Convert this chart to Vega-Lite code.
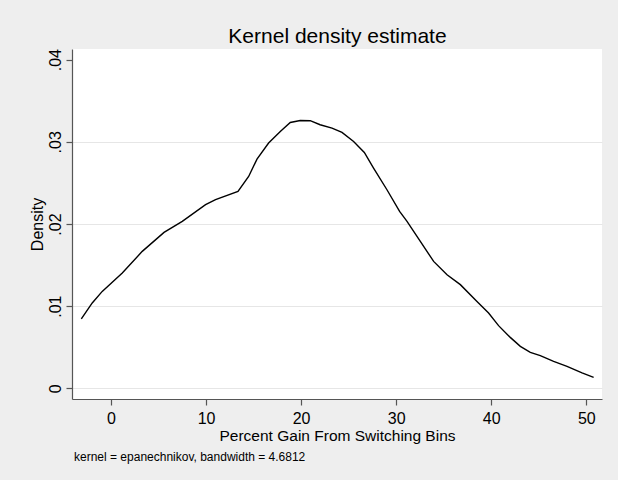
{
  "$schema": "https://vega.github.io/schema/vega-lite/v6.json",
  "autosize": {"type": "none"},
  "width": 530,
  "height": 350,
  "padding": {"left": 72, "top": 49, "right": 16, "bottom": 81},
  "background": "#eeeeee",
  "title": {
    "text": "kernel = epanechnikov, bandwidth = 4.6812",
    "orient": "bottom",
    "anchor": "start",
    "frame": "group",
    "offset": 8,
    "fontSize": 12,
    "fontWeight": "normal",
    "font": "Liberation Sans",
    "color": "#000000",
    "dx": 2
  },
  "config": {
    "view": {"fill": "#ffffff", "stroke": null},
    "axis": {"labelFont": "Liberation Sans", "titleFont": "Liberation Sans", "labelColor": "#000000", "titleColor": "#000000", "titleFontWeight": "normal"}
  },
  "data": {
    "values": [
      {"x": -3.12, "density": 0.00844},
      {"x": -1.97, "density": 0.01039},
      {"x": -0.92, "density": 0.0118},
      {"x": 1.19, "density": 0.01404},
      {"x": 3.29, "density": 0.01667},
      {"x": 5.58, "density": 0.01898},
      {"x": 7.5, "density": 0.02032},
      {"x": 9.95, "density": 0.02235},
      {"x": 11.0, "density": 0.02296},
      {"x": 13.36, "density": 0.02397},
      {"x": 14.48, "density": 0.02579},
      {"x": 15.36, "density": 0.0279},
      {"x": 16.58, "density": 0.02985},
      {"x": 17.81, "density": 0.03127},
      {"x": 18.86, "density": 0.03236},
      {"x": 19.91, "density": 0.0326},
      {"x": 20.96, "density": 0.03257},
      {"x": 22.0, "density": 0.03208},
      {"x": 23.25, "density": 0.03168},
      {"x": 24.3, "density": 0.03114},
      {"x": 25.52, "density": 0.03005},
      {"x": 26.65, "density": 0.02871},
      {"x": 27.62, "density": 0.02681},
      {"x": 29.03, "density": 0.02417},
      {"x": 30.36, "density": 0.02153},
      {"x": 31.14, "density": 0.02032},
      {"x": 32.54, "density": 0.01788},
      {"x": 33.94, "density": 0.01545},
      {"x": 35.35, "density": 0.01383},
      {"x": 36.75, "density": 0.01262},
      {"x": 38.5, "density": 0.01058},
      {"x": 39.72, "density": 0.00917},
      {"x": 40.77, "density": 0.00763},
      {"x": 42.0, "density": 0.0062},
      {"x": 43.06, "density": 0.00511},
      {"x": 44.11, "density": 0.00438},
      {"x": 45.16, "density": 0.00398},
      {"x": 46.56, "density": 0.00329},
      {"x": 47.97, "density": 0.00268},
      {"x": 49.55, "density": 0.00187},
      {"x": 50.77, "density": 0.00134}
    ]
  },
  "resolve": {"axis": {"x": "independent"}},
  "layer": [
    {
      "mark": {"type": "line", "color": "#000000", "strokeWidth": 1.4},
      "encoding": {
        "x": {
          "field": "x", "type": "quantitative",
          "scale": {"domain": [-4.1, 51.65], "nice": false, "zero": false},
          "axis": {
            "orient": "bottom",
            "title": "Percent Gain From Switching Bins",
            "values": [0, 10, 20, 30, 40, 50],
            "grid": false,
            "domainColor": "#555555", "domainWidth": 1.2,
            "tickColor": "#555555", "tickSize": 6, "tickWidth": 1.2,
            "labelFontSize": 16, "labelPadding": 5,
            "titleFontSize": 15.5, "titleBaseline": "alphabetic", "titleY": 41
          }
        },
        "y": {
          "field": "density", "type": "quantitative",
          "scale": {"domain": [-0.0013, 0.0413], "nice": false, "zero": false},
          "axis": {
            "title": "Density",
            "values": [0, 0.01, 0.02, 0.03, 0.04],
            "labelExpr": "datum.value === 0 ? '0' : replace(format(datum.value, '.2f'), '0.', '.')",
            "labelAngle": -90, "labelAlign": "center", "labelBaseline": "alphabetic",
            "labelFontSize": 16, "labelPadding": 6,
            "domainColor": "#555555", "domainWidth": 1.2,
            "tickColor": "#555555", "tickSize": 6, "tickWidth": 1.2,
            "grid": true,
            "gridColor": {"condition": {"test": "datum.value > 0.035", "value": "transparent"}, "value": "#e6e6e6"},
            "gridWidth": 1.2,
            "titleFontSize": 16, "titleBaseline": "alphabetic", "titleX": -29.3, "titleAngle": -90
          }
        }
      }
    },
    {
      "mark": {"type": "point", "opacity": 0},
      "encoding": {
        "x": {
          "field": "x", "type": "quantitative",
          "axis": {
            "orient": "top",
            "title": "Kernel density estimate",
            "labels": false, "ticks": false, "domain": false, "grid": false,
            "titleFontSize": 21, "titleBaseline": "alphabetic", "titleY": -7
          }
        },
        "y": {"field": "density", "type": "quantitative"}
      }
    }
  ]
}
